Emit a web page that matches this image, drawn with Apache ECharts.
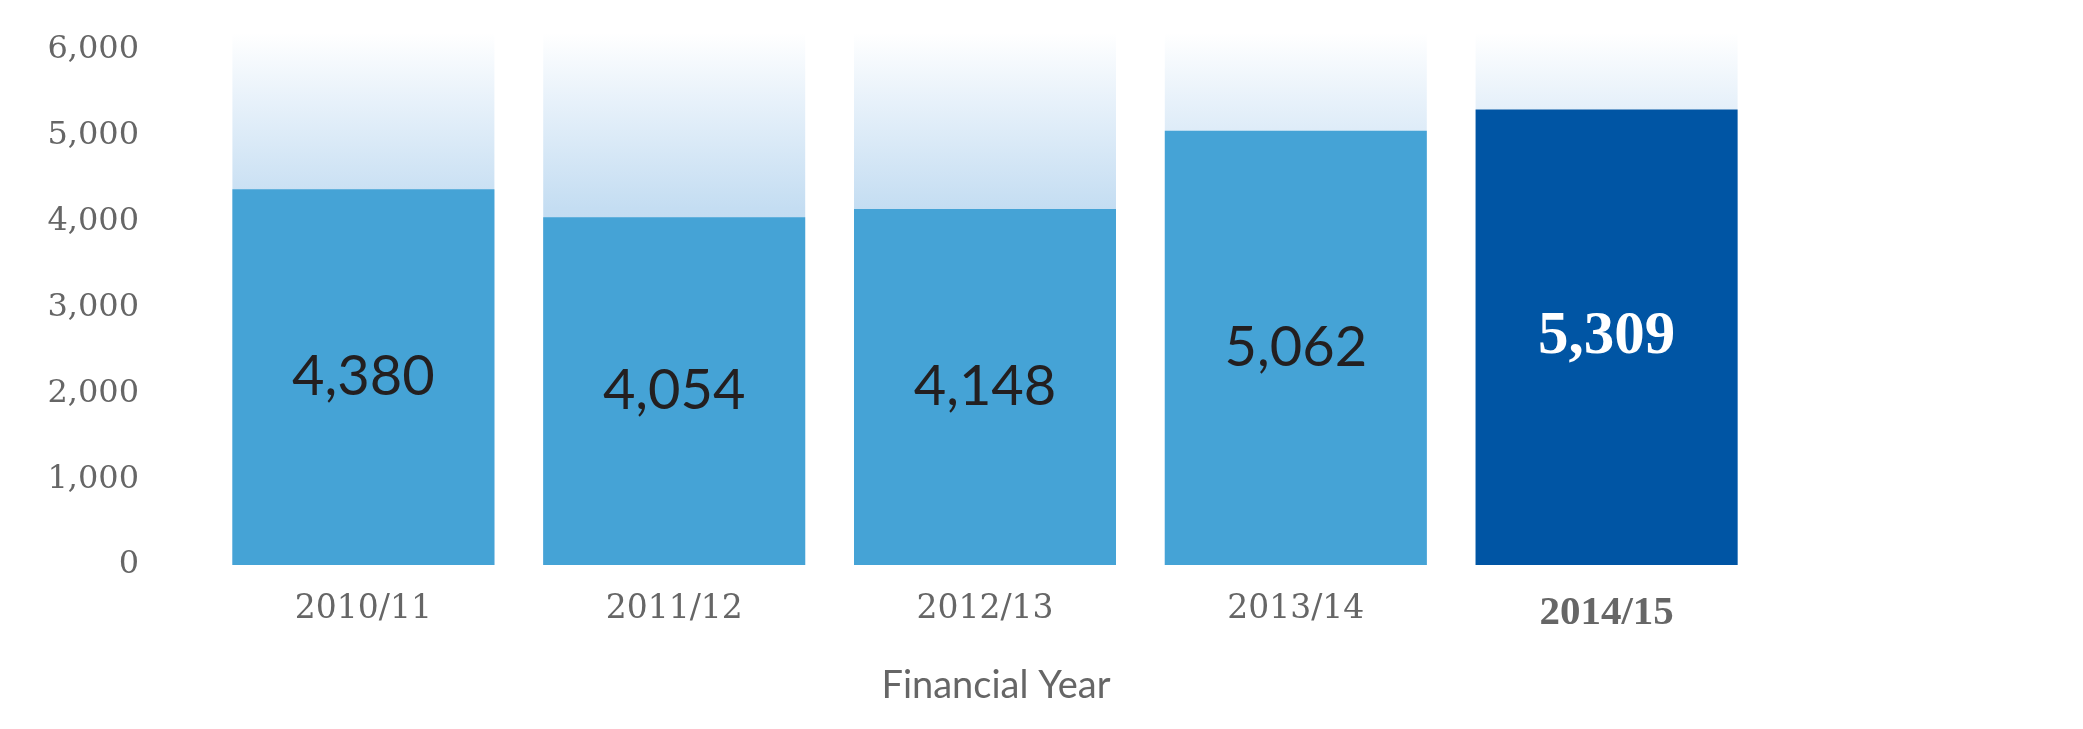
<!DOCTYPE html>
<html>
<head>
<meta charset="utf-8">
<title>Financial Year</title>
<script src="https://cdn.jsdelivr.net/npm/echarts@6/dist/echarts.min.js"></script>
<style>
  html, body { margin: 0; padding: 0; background: #fff; }
  #main { width: 2083px; height: 729px; }
</style>
</head>
<body>
<div id="main"></div>
<script>
// chart data
const years = ['2010/11', '2011/12', '2012/13', '2013/14', '2014/15'];
const values = [4380, 4054, 4148, 5062, 5309];
const yTicks = [0, 1000, 2000, 3000, 4000, 5000, 6000];
const highlightIndex = 4;

const barColor = '#45a3d6';
const highlightColor = '#0055a4';

let chart = echarts.init(document.getElementById('main'));

// the last year gets its own colour and a bold label
let seriesData = values.map(function (v, i) {
    if (i !== highlightIndex) return v;
    return {
        value: v,
        itemStyle: { color: highlightColor },
        label: {
            color: '#ffffff',
            fontFamily: 'Liberation Serif',
            fontWeight: 'bold',
            fontSize: 61
        }
    };
});

chart.setOption({
    animation: false,
    grid: {
        left: 208,
        right: 321,
        top: 33,
        bottom: 164,
        containLabel: false,
        outerBoundsMode: 'none'
    },
    xAxis: {
        type: 'category',
        data: years,
        name: 'Financial Year',
        nameLocation: 'middle',
        nameGap: 102,
        nameTextStyle: {
            fontFamily: 'Lato',
            fontSize: 38,
            color: '#666666',
            padding: [0, 0, 0, 22]
        },
        axisLine: { show: false },
        axisTick: { show: false },
        axisLabel: {
            margin: 28,
            fontFamily: 'DejaVu Serif',
            fontSize: 33,
            color: '#666666',
            formatter: function (v, i) {
                return i === highlightIndex ? '{hl|' + v + '}' : v;
            },
            rich: {
                hl: {
                    fontFamily: 'Liberation Serif',
                    fontWeight: 'bold',
                    fontSize: 41,
                    color: '#666666'
                }
            }
        }
    },
    yAxis: {
        type: 'value',
        min: yTicks[0],
        max: 6200,
        interval: yTicks[1] - yTicks[0],
        axisLine: { show: false },
        axisTick: { show: false },
        splitLine: { show: false },
        axisLabel: {
            margin: 69,
            showMaxLabel: false,
            fontFamily: 'DejaVu Serif',
            fontSize: 32,
            color: '#666666',
            formatter: function (v) {
                return yTicks.indexOf(v) >= 0 ? v.toLocaleString('en-US') : '';
            }
        }
    },
    series: [{
        type: 'bar',
        data: seriesData,
        barWidth: 262,
        itemStyle: { color: barColor },
        showBackground: true,
        backgroundStyle: {
            color: new echarts.graphic.LinearGradient(0, 0, 0, 1, [
                { offset: 0, color: '#ffffff' },
                { offset: 0.13, color: '#e7f1fa' },
                { offset: 0.33, color: '#c4ddf2' },
                { offset: 1, color: '#a9cfee' }
            ])
        },
        label: {
            show: true,
            position: 'inside',
            fontFamily: 'Lato',
            fontSize: 56,
            color: '#231f20',
            formatter: function (p) {
                return p.value.toLocaleString('en-US');
            }
        }
    }]
});
</script>
</body>
</html>
